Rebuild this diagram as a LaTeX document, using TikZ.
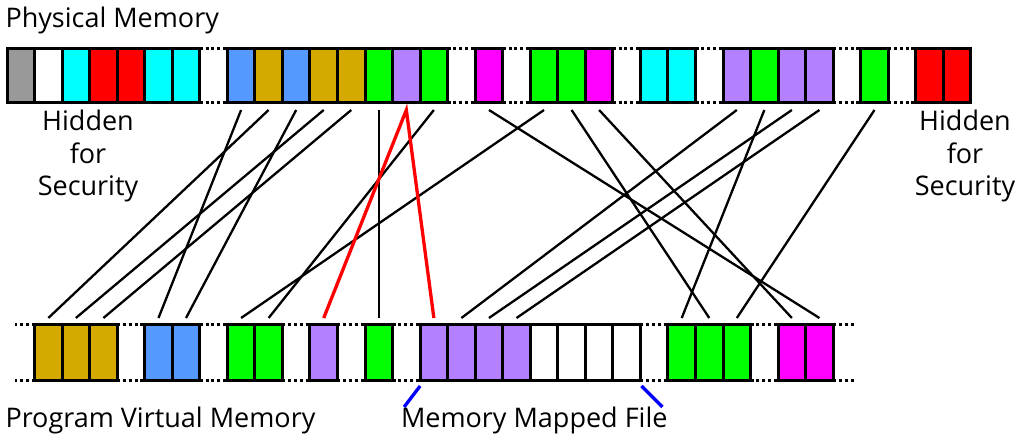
\documentclass[tikz,border=0pt]{standalone}
\usepackage{fontspec}
\setmainfont{Open Sans}
\definecolor{cgray}{HTML}{999999}
\definecolor{ccyan}{HTML}{00FFFF}
\definecolor{cred}{HTML}{FF0000}
\definecolor{cblue}{HTML}{5599FF}
\definecolor{cgold}{HTML}{D4AA00}
\definecolor{cgreen}{HTML}{00FF00}
\definecolor{cpurple}{HTML}{B380FF}
\definecolor{cmag}{HTML}{FF00FF}
\definecolor{cmark}{HTML}{0000FF}
\tikzset{
  cell/.style={draw=black, line width=3pt, minimum width=27.54pt, minimum height=54pt,
    inner sep=0pt, outer sep=0pt, anchor=north west},
  gapline/.style={line width=3pt, dash pattern=on 3pt off 2.8pt},
  conn/.style={line width=2.3pt, black},
  redconn/.style={line width=3.3pt, cred},
  filemark/.style={line width=3.3pt, cmark},
  lbl/.style={font=\fontsize{27}{32.5}\selectfont, inner sep=0pt, outer sep=0pt}
}
\begin{document}
\begin{tikzpicture}[x=1pt, y=-1pt]
\useasboundingbox (0,0) rectangle (1017,435);
% physical memory cells
\foreach \i/\c in {0/cgray,1/white,2/ccyan,3/cred,4/cred,5/ccyan,6/ccyan,
  8/cblue,9/cgold,10/cblue,11/cgold,12/cgold,13/cgreen,14/cpurple,15/cgreen,
  17/cmag,19/cgreen,20/cgreen,21/cmag,23/ccyan,24/ccyan,
  26/cpurple,27/cgreen,28/cpurple,29/cpurple,31/cgreen,33/cred,34/cred}
  \node[cell, fill=\c] (t\i) at ({7+\i*27.54},49) {};
% virtual memory cells
\foreach \i/\c in {1/cgold,2/cgold,3/cgold,5/cblue,6/cblue,8/cgreen,9/cgreen,
  11/cpurple,13/cgreen,15/cpurple,16/cpurple,17/cpurple,18/cpurple,
  19/white,20/white,21/white,22/white,24/cgreen,25/cgreen,26/cgreen,28/cmag,29/cmag}
  \node[cell, fill=\c, minimum height=55pt] (b\i) at ({7+\i*27.54},325) {};
% dotted gaps, top
\foreach \a/\b in {6/8,15/17,17/19,21/23,24/26,29/31,31/33}{
  \draw[gapline] (t\a.north east) -- (t\b.north west);
  \draw[gapline] (t\a.south east) -- (t\b.south west);
}
% dotted gaps, bottom
\foreach \a/\b in {3/5,6/8,9/11,11/13,13/15,22/24,26/28}{
  \draw[gapline] (b\a.north east) -- (b\b.north west);
  \draw[gapline] (b\a.south east) -- (b\b.south west);
}
\coordinate (blt) at (15,325);
\coordinate (blb) at (15,380);
\coordinate (brt) at (856,325);
\coordinate (brb) at (856,380);
\draw[gapline] (b1.north west) -- (blt);
\draw[gapline] (b1.south west) -- (blb);
\draw[gapline] (b29.north east) -- (brt);
\draw[gapline] (b29.south east) -- (brb);
% connectors
\foreach \s/\d in {8/5,9/1,10/6,11/2,12/3,13/13,15/9,17/29,19/8,20/25,21/28,
  26/16,27/24,28/17,29/18,31/26}
  \draw[conn] ([yshift=-7pt]t\s.south) -- ([yshift=7pt]b\d.north);
\draw[redconn] ([yshift=7pt]b11.north) -- ([yshift=-7pt]t14.south) -- ([yshift=7pt]b15.north);
% memory mapped file marks
\draw[filemark] ([yshift=-6pt]b15.south west) -- ++(-16,21);
\draw[filemark] ([xshift=1pt,yshift=-6pt]b22.south east) -- ++(21,21);
% labels
\node[lbl, anchor=base west] (pm) at (5.5,28) {Physical Memory};
\node[lbl, anchor=base west] (vm) at (5.5,427) {Program Virtual Memory};
\node[lbl, anchor=base west] (mf) at (401,427) {Memory Mapped File};
\node[lbl, align=center] (hl) at (88,156) {Hidden\\for\\Security};
\node[lbl, align=center] (hr) at (965,156) {Hidden\\for\\Security};
\end{tikzpicture}
\end{document}
